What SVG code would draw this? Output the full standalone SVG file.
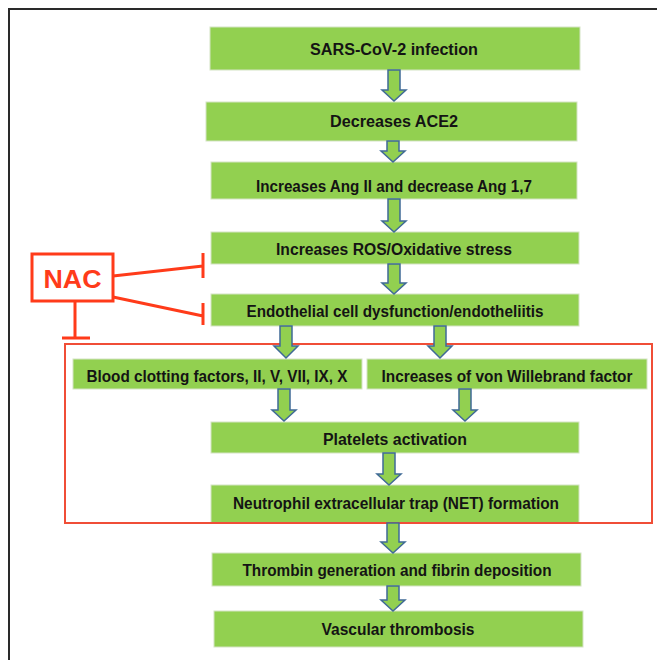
<svg xmlns="http://www.w3.org/2000/svg" width="657" height="660" viewBox="0 0 657 660">
<style>
.box{fill:#92D050;stroke:#d4e3c4;stroke-width:1}
.t{font-family:"Liberation Sans",Arial,sans-serif;font-weight:bold;font-size:16px;fill:#141414;text-anchor:middle}
.arr{fill:#92D050;stroke:#3F6A96;stroke-width:1.5;stroke-linejoin:miter}
.inh{stroke:#FF3B1A;stroke-width:3;fill:none}
</style>
<rect x="0" y="0" width="657" height="660" fill="#ffffff"/>
<path d="M9,660 V9 H657" fill="none" stroke="#2a2a2a" stroke-width="2"/>

<g id="n1"><rect class="box" x="210" y="27" width="370" height="43"/><text class="t" x="394" y="55" textLength="168" lengthAdjust="spacingAndGlyphs">SARS-CoV-2 infection</text></g>
<g id="n2"><rect class="box" x="206" y="102" width="371" height="39"/><text class="t" x="394" y="127" textLength="128" lengthAdjust="spacingAndGlyphs">Decreases ACE2</text></g>
<g id="n3"><rect class="box" x="211" y="162" width="366" height="37"/><text class="t" x="394" y="192" textLength="276" lengthAdjust="spacingAndGlyphs">Increases Ang II and decrease Ang 1,7</text></g>
<g id="n4"><rect class="box" x="211" y="232" width="368" height="32"/><text class="t" x="394" y="255" textLength="236" lengthAdjust="spacingAndGlyphs">Increases ROS/Oxidative stress</text></g>
<g id="n5"><rect class="box" x="211" y="294" width="368" height="32"/><text class="t" x="395" y="317" textLength="297" lengthAdjust="spacingAndGlyphs">Endothelial cell dysfunction/endotheliitis</text></g>

<g id="nac">
<rect x="32" y="254" width="81" height="47" fill="#ffffff" stroke="#FF3B1A" stroke-width="3"/>
<text x="72.5" y="287.5" font-family="'Liberation Sans',Arial,sans-serif" font-weight="bold" font-size="26" fill="#FF3B1A" text-anchor="middle" textLength="58" lengthAdjust="spacingAndGlyphs">NAC</text>
</g>

<g id="n6"><rect class="box" x="73" y="359" width="289" height="30"/><text class="t" x="217" y="382" textLength="261" lengthAdjust="spacingAndGlyphs">Blood clotting factors, II, V, VII, IX, X</text></g>
<g id="n7"><rect class="box" x="367" y="359" width="280" height="30"/><text class="t" x="507" y="382" textLength="251" lengthAdjust="spacingAndGlyphs">Increases of von Willebrand factor</text></g>
<g id="n8"><rect class="box" x="211" y="422" width="368" height="31"/><text class="t" x="395" y="445" textLength="144" lengthAdjust="spacingAndGlyphs">Platelets activation</text></g>
<g id="n9"><rect class="box" x="211" y="485" width="368" height="38"/><text class="t" x="396" y="509" textLength="326" lengthAdjust="spacingAndGlyphs">Neutrophil extracellular trap (NET) formation</text></g>
<g id="n10"><rect class="box" x="212" y="553" width="369" height="33"/><text class="t" x="397" y="576" textLength="309" lengthAdjust="spacingAndGlyphs">Thrombin generation and fibrin deposition</text></g>
<g id="n11"><rect class="box" x="214" y="611" width="369" height="36"/><text class="t" x="398" y="635" textLength="153" lengthAdjust="spacingAndGlyphs">Vascular thrombosis</text></g>

<g id="group-box"><rect x="65" y="344" width="587" height="179" fill="none" stroke="#F04E37" stroke-width="2"/></g>

<g id="connectors">
<path class="arr" d="M388,70 H400 V90 H406 L394,101 L382,90 H388 Z"/>
<path class="arr" d="M387,141 H399 V151 H405 L393,162 L381,151 H387 Z"/>
<path class="arr" d="M388,199 H400 V221 H406 L394,232 L382,221 H388 Z"/>
<path class="arr" d="M388,264 H400 V283 H406 L394,294 L382,283 H388 Z"/>
<path class="arr" d="M280,326 H292 V346 H298 L286,358 L274,346 H280 Z"/>
<path class="arr" d="M434,326 H446 V346 H452 L440,358 L428,346 H434 Z"/>
<path class="arr" d="M278,389 H290 V410 H296 L284,421 L272,410 H278 Z"/>
<path class="arr" d="M459,389 H471 V410 H477 L465,421 L453,410 H459 Z"/>
<path class="arr" d="M383,453 H395 V474 H401 L389,485 L377,474 H383 Z"/>
<path class="arr" d="M387,523 H399 V542 H405 L393,553 L381,542 H387 Z"/>
<path class="arr" d="M387,586 H399 V600 H405 L393,611 L381,600 H387 Z"/>
<path class="inh" d="M113,276 L203,266 M203,253 V278"/>
<path class="inh" d="M113,297 L203,316 M203,303 V325"/>
<path class="inh" d="M75,302 V338 M62,338 H90"/>
</g>
</svg>
